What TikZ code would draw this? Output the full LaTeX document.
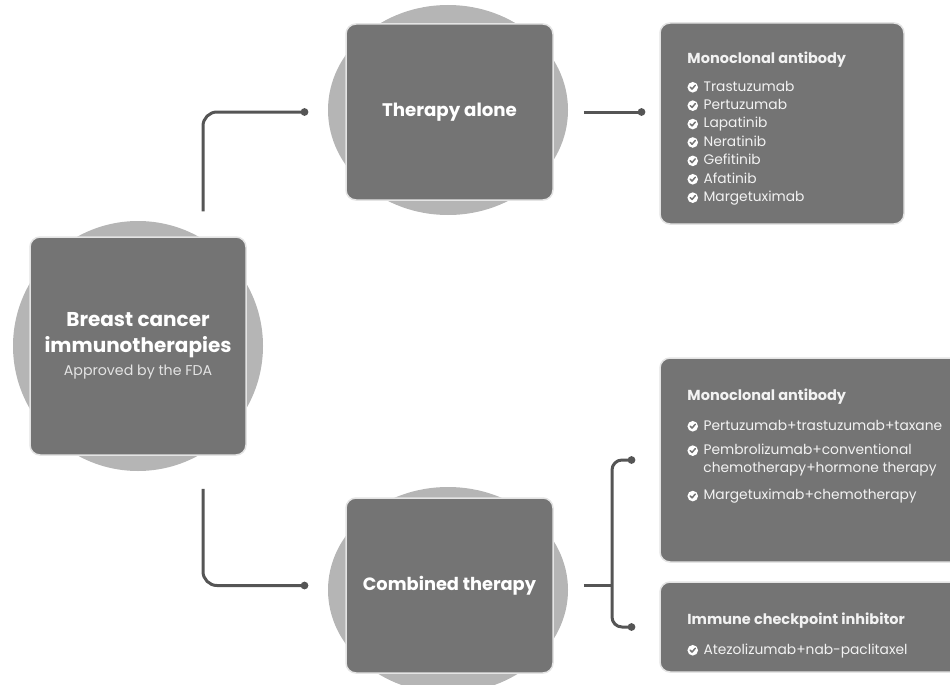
\documentclass[tikz,border=0pt]{standalone}
\usepackage{fontspec}
\setmainfont{Poppins}
\usepackage{xcolor}
\usepackage{tikz}
\usetikzlibrary{positioning,arrows.meta,calc}
\definecolor{boxgray}{HTML}{747474}
\definecolor{circgray}{HTML}{B5B5B5}
\definecolor{edgegray}{HTML}{E4E4E4}
\definecolor{linegray}{HTML}{555555}
\definecolor{itemwhite}{HTML}{F2F2F2}
\newcommand{\chk}{\tikz[baseline={(0,-3.8pt)}]{\fill[white] (0,0) circle (5.3pt);
  \draw[boxgray, line width=1.5pt, line cap=round, line join=round]
    (-2.5pt,0.1pt) -- (-0.7pt,-1.8pt) -- (2.5pt,2pt);}\hspace{5.5pt}}
\newcommand{\hd}[1]{{\fontsize{14.5}{18.4}\selectfont\bfseries #1}}
\tikzset{
  card/.style  ={rectangle, rounded corners=10pt, fill=boxgray, draw=edgegray,
                 line width=1.5pt, align=center, text=white, inner sep=0pt},
  halo/.style  ={fill=circgray, draw=none},
  list/.style  ={anchor=north west, align=left, text=itemwhite, inner sep=0pt,
                 font=\fontsize{13.8}{18.4}\selectfont},
  conn/.style  ={draw=linegray, line width=3pt, rounded corners=14pt},
  dot/.style   ={-{Circle[length=7.5pt]}},
}

\begin{document}
\begin{tikzpicture}[x=1pt, y=-1pt]
  \clip (0,0) rectangle (950,685);

  % halos behind the cards
  \fill[halo] (138,346) circle (125);
  \fill[halo] (448,110) ellipse [x radius=120, y radius=105];
  \fill[halo] (448,590) ellipse [x radius=120, y radius=103];

  % root
  \node[card, minimum width=216pt, minimum height=218pt,
        font=\fontsize{20}{26}\selectfont\bfseries] (main) at (138,346)
       {Breast cancer\\immunotherapies\\[-3pt]
        {\fontsize{14.2}{16}\selectfont\mdseries\color{edgegray}Approved by the FDA}};

  % the two branches
  \node[card, minimum width=207pt, minimum height=176pt, font=\fontsize{18.2}{20}\selectfont\bfseries]
       (alone) at (449.5,112) {Therapy alone};
  \node[card, minimum width=207pt, minimum height=175pt, font=\fontsize{17.8}{20}\selectfont\bfseries]
       (comb) at (449.5,585.5) {Combined therapy};

  % drug lists
  \node[card, minimum width=244pt, minimum height=201pt] (monoA) at (782,123.5) {};
  \node[card, minimum width=305pt, minimum height=204pt] (monoB) at (812.5,460) {};
  \node[card, minimum width=305pt, minimum height=90pt] (icb) at (812.5,627) {};

  \node[list] (monoAtxt) at ($(monoA.north west)+(28,29)$)
       {\hd{Monoclonal antibody}\\[9.6pt]
        \chk Trastuzumab\\ \chk Pertuzumab\\ \chk Lapatinib\\ \chk Neratinib\\
        \chk Gefitinib\\ \chk Afatinib\\ \chk Margetuximab};
  \node[list] (monoBtxt) at ($(monoB.north west)+(28,31)$)
       {\hd{Monoclonal antibody}\\[11.6pt]
        \chk Pertuzumab+trastuzumab+taxane\\[6pt]
        \chk Pembrolizumab+conventional\\
        \hspace{16pt}chemotherapy+hormone therapy\\[8.6pt]
        \chk Margetuximab+chemotherapy};
  \node[list] (icbtxt) at ($(icb.north west)+(28,31)$)
       {\hd{Immune checkpoint inhibitor}\\[11.6pt]
        \chk Atezolizumab+nab-paclitaxel};

  % connectors
  \draw[conn, dot] ([xshift=65pt,yshift=25pt]main.north) |- ([xshift=-37pt]alone.west);
  \draw[conn, dot] ([xshift=65pt,yshift=-33pt]main.south) |- ([xshift=-37pt]comb.west);
  \draw[conn, dot] ([xshift=30pt]alone.east) -- ([xshift=-14pt]monoA.west |- alone.east);

  % bracket to the combined lists
  \coordinate (fork) at (612,585.5);
  \draw[conn] ([xshift=30pt]comb.east) -- (fork);
  \draw[conn, rounded corners=10pt, {Circle[length=7.5pt]}-{Circle[length=7.5pt]}]
       ([xshift=-24pt]monoB.west) -| (fork) |- ([xshift=-24pt]icb.west);
\end{tikzpicture}
\end{document}
